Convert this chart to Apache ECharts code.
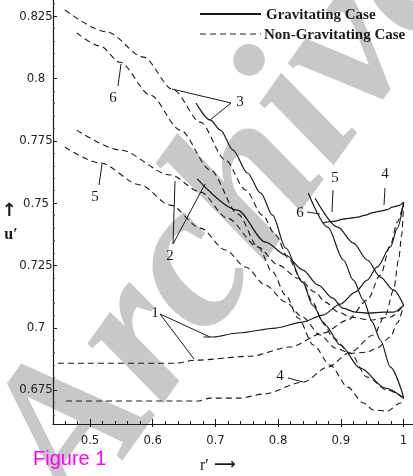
<!DOCTYPE html>
<html><head><meta charset="utf-8">
<script src="https://cdn.jsdelivr.net/npm/echarts@6/dist/echarts.min.js"></script>
<style>html,body{margin:0;padding:0;background:#fff}#c{width:413px;height:476px}</style>
</head><body><div id="c"></div>
<script>
// ---- tick values ----
const xTicks = [0.5, 0.6, 0.7, 0.8, 0.9, 1];
const xMinorTicks = [0.46,0.48,0.52,0.54,0.56,0.58,0.62,0.64,0.66,0.68,0.72,0.74,0.76,0.78,0.82,0.84,0.86,0.88,0.92,0.94,0.96,0.98];
const yTicks = [0.675, 0.7, 0.725, 0.75, 0.775, 0.8, 0.825];
const yMinorTicks = [0.665,0.67,0.68,0.685,0.69,0.695,0.705,0.71,0.715,0.72,0.73,0.735,0.74,0.745,0.755,0.76,0.765,0.77,0.78,0.785,0.79,0.795,0.805,0.81,0.815,0.82,0.83];

// ---- Non-gravitating case (dashed) ----
const nonGrav1 = [[0.449,0.6858],[0.636,0.6858],[0.668,0.6870],[0.756,0.6886],[0.819,0.6923],[0.872,0.6979],[0.911,0.7031],[0.942,0.7111],[0.963,0.7211],[0.979,0.7332],[0.990,0.7424],[1.0,0.7504]];
const nonGrav2 = [[0.479,0.7793],[0.548,0.7713],[0.628,0.7613],[0.676,0.7545],[0.719,0.7440],[0.768,0.7324],[0.800,0.7252],[0.832,0.7199],[0.859,0.7143],[0.875,0.7103],[0.896,0.7063],[0.915,0.7043],[0.947,0.7031],[0.979,0.7043],[1.0,0.7091]];
const nonGrav3 = [[0.460,0.8275],[0.527,0.8187],[0.585,0.8086],[0.633,0.7954],[0.676,0.7825],[0.716,0.7673],[0.748,0.7553],[0.775,0.7452],[0.796,0.7372],[0.816,0.7280],[0.839,0.7183],[0.855,0.7103],[0.871,0.7023],[0.888,0.6959],[0.915,0.6898],[0.942,0.6802],[0.974,0.6750],[1.0,0.6718]];
const nonGrav4 = [[0.462,0.6706],[0.671,0.6706],[0.692,0.6718],[0.740,0.6718],[0.776,0.6734],[0.840,0.6782],[0.879,0.6842],[0.915,0.6902],[0.952,0.6971],[0.971,0.7051],[0.984,0.7151],[0.992,0.7272],[0.997,0.7372],[1.0,0.7504]];
const nonGrav5 = [[0.460,0.7725],[0.516,0.7661],[0.580,0.7573],[0.628,0.7492],[0.676,0.7400],[0.716,0.7312],[0.748,0.7244],[0.780,0.7171],[0.812,0.7103],[0.839,0.7043],[0.867,0.6971],[0.891,0.6919],[0.915,0.6898],[0.942,0.6902],[0.958,0.6919],[0.979,0.6963],[0.990,0.7019],[1.0,0.7091]];
const nonGrav6 = [[0.479,0.8183],[0.516,0.8130],[0.548,0.8065],[0.596,0.7934],[0.644,0.7793],[0.692,0.7633],[0.736,0.7456],[0.768,0.7324],[0.791,0.7224],[0.812,0.7131],[0.832,0.7039],[0.856,0.6931],[0.883,0.6850],[0.911,0.6762],[0.936,0.6698],[0.952,0.6670],[0.974,0.6666],[0.995,0.6698],[1.0,0.6718]];

// ---- Gravitating case (solid) ----
const grav1 = [[0.681,0.6963],[0.696,0.6963],[0.736,0.6979],[0.796,0.6999],[0.839,0.7023],[0.871,0.7051],[0.899,0.7095],[0.923,0.7143],[0.942,0.7191],[0.958,0.7244],[0.979,0.7324],[0.990,0.7400],[1.0,0.7504]];
const grav2 = [[0.671,0.7597],[0.735,0.7472],[0.780,0.7344],[0.812,0.7292],[0.839,0.7232],[0.864,0.7171],[0.887,0.7119],[0.903,0.7079],[0.923,0.7063],[0.944,0.7059],[0.968,0.7063],[0.984,0.7063],[1.0,0.7091]];
const grav3 = [[0.669,0.7902],[0.692,0.7833],[0.708,0.7793],[0.728,0.7713],[0.751,0.7621],[0.772,0.7541],[0.791,0.7452],[0.812,0.7320],[0.839,0.7183],[0.855,0.7091],[0.875,0.7011],[0.899,0.6931],[0.931,0.6838],[0.971,0.6758],[1.0,0.6718]];
const grav4 = [[0.871,0.7420],[0.883,0.7426],[0.891,0.7428],[0.903,0.7436],[0.915,0.7440],[0.927,0.7444],[0.939,0.7452],[0.951,0.7462],[0.963,0.7468],[0.974,0.7474],[0.982,0.7484],[0.992,0.7490],[1.0,0.7504]];
const grav5 = [[0.859,0.7520],[0.895,0.7404],[0.920,0.7340],[0.942,0.7272],[0.963,0.7203],[0.984,0.7151],[1.0,0.7091]];
const grav6 = [[0.848,0.7541],[0.879,0.7404],[0.904,0.7272],[0.920,0.7191],[0.936,0.7111],[0.950,0.7023],[0.963,0.6951],[0.979,0.6842],[1.0,0.6722]];

const gravSeries = [grav1, grav2, grav3, grav4, grav5, grav6];
const nonGravSeries = [nonGrav1, nonGrav2, nonGrav3, nonGrav4, nonGrav5, nonGrav6];

const INK = '#1a1a1a';
const tickFont = "'Liberation Sans Narrow','DejaVu Sans Condensed','Arial Narrow',sans-serif";
const serif = "'Liberation Serif','DejaVu Serif','Times New Roman',serif";
const X_MIN = 0.441, X_MAX = 1.015, Y_MIN = 0.6614, Y_MAX = 0.8315;

function xAxisDef(opts) {
  return Object.assign({
    type: 'value', min: X_MIN, max: X_MAX, position: 'bottom',
    axisLine: { show: false, onZero: false }, splitLine: { show: false },
    axisLabel: { show: false }, axisTick: { show: false }
  }, opts);
}
function yAxisDef(opts) {
  return Object.assign({
    type: 'value', min: Y_MIN, max: Y_MAX, position: 'left',
    axisLine: { show: false, onZero: false }, splitLine: { show: false },
    axisLabel: { show: false }, axisTick: { show: false }
  }, opts);
}

const series = [];
gravSeries.forEach((d, i) => series.push({
  name: 'Gravitating Case ' + (i + 1), type: 'line', data: d, xAxisIndex: 0, yAxisIndex: 0,
  showSymbol: false, smooth: 0.3, smoothMonotone: 'x', silent: true, z: 3,
  lineStyle: { color: INK, width: 1.2, type: 'solid' }
}));
nonGravSeries.forEach((d, i) => series.push({
  name: 'Non-Gravitating Case ' + (i + 1), type: 'line', data: d, xAxisIndex: 0, yAxisIndex: 0,
  showSymbol: false, smooth: 0.3, smoothMonotone: 'x', silent: true, z: 3,
  lineStyle: { color: INK, width: 1.1, type: [6, 4] }
}));

// annotation labels and leader lines (pixel layout)
const labelTexts = [
  { t: '6', x: 113, y: 98 }, { t: '5', x: 95, y: 197 }, { t: '3', x: 240, y: 102 },
  { t: '2', x: 170, y: 256 }, { t: '1', x: 155, y: 313 }, { t: '4', x: 280, y: 376 },
  { t: '5', x: 335, y: 178 }, { t: '4', x: 385, y: 174 }, { t: '6', x: 300, y: 213 }
];
const leaders = [
  [118,86,121,64], [99,185,102,164], [231,103,172,89], [231,103,210,120],
  [173,244,175,181], [173,244,205,184], [160,314,194,359], [160,314,210,337],
  [288,378,303,382], [333,190,332,212], [385,188,384,205], [307,212,320,214]
];

const graphic = [
  { type: 'text', z: 0, zlevel: 0, x: 232, y: 214, rotation: 0.95,
    style: { text: 'Archive', fill: '#c8c8c8', font: "italic bold 210px " + serif, align: 'center', verticalAlign: 'middle' } },
  // legend
  { type: 'line', shape: { x1: 200, y1: 14, x2: 261, y2: 14 }, style: { stroke: INK, lineWidth: 2 }, z: 10 },
  { type: 'line', shape: { x1: 200, y1: 34, x2: 261, y2: 34 }, style: { stroke: INK, lineWidth: 1.2, lineDash: [6, 4] }, z: 10 },
  { type: 'text', x: 266, y: 15, z: 10, style: { text: 'Gravitating Case', fill: INK, font: "bold 15px " + serif, verticalAlign: 'middle' } },
  { type: 'text', x: 264, y: 35, z: 10, style: { text: 'Non-Gravitating Case', fill: INK, font: "bold 15px " + serif, verticalAlign: 'middle' } },
  // axis titles
  { type: 'text', x: 9, y: 211, z: 10, style: { text: '\u2191', fill: INK, font: "bold 18px 'DejaVu Sans',sans-serif", align: 'center', verticalAlign: 'middle' } },
  { type: 'text', x: 11, y: 235, z: 10, style: { text: 'u\u2032', fill: INK, font: "bold 16px " + serif, align: 'center', verticalAlign: 'middle' } },
  { type: 'text', x: 200, y: 466, z: 10, style: { text: 'r\u2032', fill: INK, font: "16px " + serif, verticalAlign: 'middle' } },
  { type: 'text', x: 214, y: 465, z: 10, style: { text: '\u27F6', fill: INK, font: "bold 15px 'DejaVu Sans',sans-serif", verticalAlign: 'middle' } },
  { type: 'text', x: 33, y: 459, z: 10, style: { text: 'Figure 1', fill: '#ff00ff', font: "20px 'Liberation Sans',Arial,sans-serif", verticalAlign: 'middle' } }
];
labelTexts.forEach(l => graphic.push({ type: 'text', x: l.x, y: l.y, z: 10,
  style: { text: l.t, fill: INK, font: "15px " + serif, align: 'center', verticalAlign: 'middle' } }));
leaders.forEach(p => graphic.push({ type: 'line', z: 10,
  shape: { x1: p[0], y1: p[1], x2: p[2], y2: p[3] }, style: { stroke: INK, lineWidth: 1 } }));

const chart = echarts.init(document.getElementById('c'), null, { renderer: 'canvas' });
chart.setOption({
  animation: false,
  backgroundColor: '#fff',
  grid: { left: 53, right: 0, top: 0, bottom: 52, containLabel: false },
  xAxis: [
    xAxisDef({
      axisLine: { show: true, onZero: false, lineStyle: { color: INK, width: 1.2 } },
      axisTick: { show: true, inside: true, length: 5, customValues: xTicks, lineStyle: { color: INK } },
      axisLabel: { show: true, customValues: xTicks, margin: 10, color: '#222', fontSize: 13, fontFamily: tickFont, formatter: v => String(v) }
    }),
    xAxisDef({ axisTick: { show: true, inside: true, length: 3, customValues: xMinorTicks, lineStyle: { color: INK } } }),
    xAxisDef({ axisTick: { show: true, inside: false, length: 3, customValues: xTicks, lineStyle: { color: INK } } })
  ],
  yAxis: [
    yAxisDef({
      axisLine: { show: true, onZero: false, lineStyle: { color: INK, width: 1.2 } },
      axisTick: { show: true, inside: true, length: 4, customValues: yTicks, lineStyle: { color: INK } },
      axisLabel: { show: true, customValues: yTicks, margin: 17, align: 'center', color: '#222', fontSize: 13, fontFamily: tickFont, formatter: v => String(v) }
    }),
    yAxisDef({ axisTick: { show: true, inside: true, length: 2, customValues: yMinorTicks, lineStyle: { color: '#555' } } })
  ],
  series: series,
  graphic: graphic
});
</script></body></html>
